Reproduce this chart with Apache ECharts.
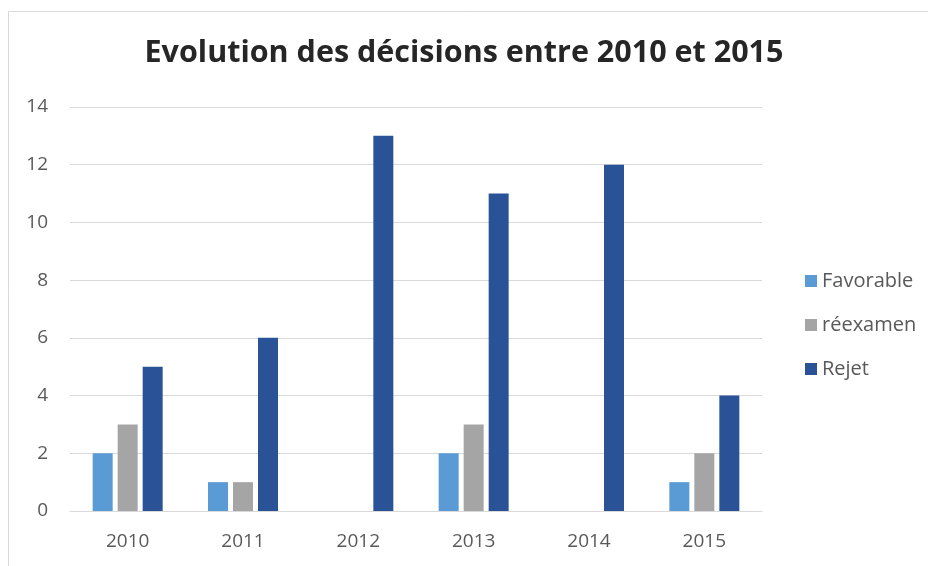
<!DOCTYPE html>
<html>
	<head>
		<meta charset="UTF-8">
		<title></title>
		<script src="https://cdn.jsdelivr.net/npm/echarts@6/dist/echarts.min.js" type="text/javascript" charset="utf-8"></script>
		<style>
			body { margin: 0; background: #fff; }
		</style>
	</head>
	<body>
		<div id="chart" style="width:928px;height:566px;"></div>
	</body>
	<script type="text/javascript">
        // données
        var annees = ['2010', '2011', '2012', '2013', '2014', '2015'];
        var favorable = [2, 1, 0, 2, 0, 1];
        var reexamen = [3, 1, 0, 3, 0, 2];
        var rejet = [5, 6, 13, 11, 12, 4];

        var chart = echarts.init(document.getElementById('chart'));
        var police = '"Open Sans", "Noto Sans", sans-serif';

        chart.setOption({
            animation: false,
            textStyle: { fontFamily: police },
            title: {
                text: 'Evolution des décisions entre 2010 et 2015',
                left: 'center',
                top: 33,
                textStyle: { fontSize: 30.5, fontWeight: 'bold', color: '#262626', fontFamily: police }
            },
            graphic: [{
                type: 'rect',
                shape: { x: 8.5, y: 11.5, width: 960, height: 600 },
                style: { fill: 'none', stroke: '#d9d9d9', lineWidth: 1 },
                silent: true
            }],
            legend: {
                orient: 'vertical',
                left: 800,
                top: 266,
                itemWidth: 12,
                itemHeight: 12,
                itemGap: 24,
                icon: 'rect',
                textStyle: { fontSize: 20, color: '#595959' },
                data: ['Favorable', 'réexamen', 'Rejet']
            },
            grid: { left: 70, right: 166, top: 107, bottom: 55 },
            xAxis: {
                type: 'category',
                data: annees,
                axisLine: { lineStyle: { color: '#d9d9d9' } },
                axisTick: { show: false },
                axisLabel: { fontSize: 19, color: '#595959', margin: 21 }
            },
            yAxis: {
                type: 'value',
                min: 0,
                max: 14,
                interval: 2,
                axisLine: { show: false },
                axisTick: { show: false },
                axisLabel: { fontSize: 19, color: '#595959', margin: 22 },
                splitLine: { lineStyle: { color: '#d9d9d9' } }
            },
            series: [
                { name: 'Favorable', type: 'bar', data: favorable, barWidth: 20, barGap: '25%', itemStyle: { color: '#5B9BD5' } },
                { name: 'réexamen', type: 'bar', data: reexamen, barWidth: 20, barGap: '25%', itemStyle: { color: '#A5A5A5' } },
                { name: 'Rejet', type: 'bar', data: rejet, barWidth: 20, barGap: '25%', itemStyle: { color: '#295396' } }
            ]
        });
	</script>
</html>
